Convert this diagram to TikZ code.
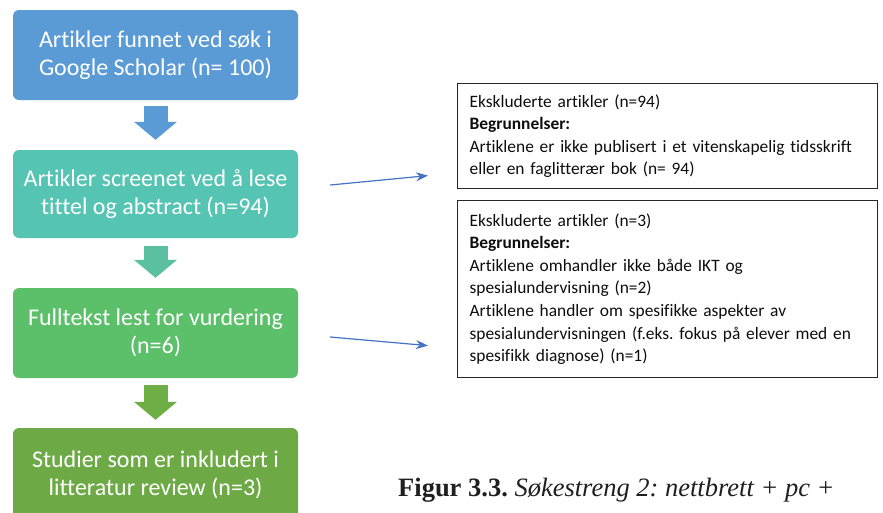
\documentclass[tikz,border=0pt]{standalone}
\usepackage{fontspec}
\setmainfont{Carlito}[Ligatures=NoCommon]
\newfontfamily\capfont{Liberation Serif}
\usetikzlibrary{arrows.meta,calc}
\definecolor{cblue}{HTML}{5B9BD5}
\definecolor{cteal}{HTML}{55C4B3}
\definecolor{cgreenA}{HTML}{5BC0A0}
\definecolor{cgreen}{HTML}{5CBF6A}
\definecolor{cgreenB}{HTML}{6DAE45}
\definecolor{cdark}{HTML}{6DAA45}
\definecolor{linkblue}{HTML}{4472C4}
\frenchspacing
\tikzset{
  flowbox/.style={rectangle, rounded corners=6pt, minimum width=285pt, minimum height=90pt,
    text=white, align=center, inner sep=0pt, font=\fontsize{24}{27.5}\selectfont},
  blockarrow/.style={line width=24pt, -{Triangle[width=42pt,length=18pt]}},
  exbox/.style={draw=black!85, line width=1.2pt, rectangle, text width=396pt, align=left,
    inner xsep=12pt, inner ysep=6pt, font=\frenchspacing\fontsize{17.4}{22.6}\selectfont, text=black!95},
  thinlink/.style={draw=linkblue, line width=1.2pt, -{Stealth[length=12pt,width=9pt]}}
}
\begin{document}
\begin{tikzpicture}[x=1pt,y=-1pt]
\useasboundingbox (0,0) rectangle (883,512);
\clip (0,0) rectangle (883,512);
\node[flowbox, fill=cblue] (b1) at (155.5,55) {Artikler funnet ved søk i\\Google Scholar (n= 100)};
\node[flowbox, fill=cteal, minimum height=88pt] (b2) at (155.5,194) {Artikler screenet ved å lese\\tittel og abstract (n=94)};
\node[flowbox, fill=cgreen] (b3) at (155.5,333) {Fulltekst lest for vurdering\\(n=6)};
\node[flowbox, fill=cdark, minimum height=94pt] (b4) at (155.5,475) {Studier som er inkludert i\\litteratur review (n=3)};
\draw[blockarrow, draw=cblue, fill=cblue, shorten <=6pt, shorten >=10pt] (b1.south) -- (b2.north);
\draw[blockarrow, draw=cgreenA, fill=cgreenA, shorten <=8pt, shorten >=10pt] (b2.south) -- (b3.north);
\draw[blockarrow, draw=cgreenB, fill=cgreenB, shorten <=7pt, shorten >=8pt] (b3.south) -- (b4.north);
\node[exbox, minimum height=105pt, anchor=north west] (exA) at (457,83)
  {Ekskluderte artikler (n=94)\\\textbf{Begrunnelser:}\\Artiklene er ikke publisert i et vitenskapelig tidsskrift\\eller en faglitterær bok (n= 94)};
\node[exbox, minimum height=177pt, anchor=north west] (exB) at (457,200)
  {Ekskluderte artikler (n=3)\\\textbf{Begrunnelser:}\\Artiklene omhandler ikke både IKT og\\spesialundervisning (n=2)\\Artiklene handler om spesifikke aspekter av\\spesialundervisningen (f.eks. fokus på elever med en\\spesifikk diagnose) (n=1)};
\coordinate (a1s) at ($(b2.east)+(32,-9)$);
\coordinate (a1e) at ($(exA.west)+(-29,39.5)$);
\coordinate (a2s) at ($(b3.east)+(32,4)$);
\coordinate (a2e) at ($(exB.west)+(-29,56.5)$);
\draw[thinlink] (a1s) -- (a1e);
\draw[thinlink] (a2s) -- (a2e);
\node[anchor=base west, inner sep=0pt, font=\frenchspacing\capfont\fontsize{26.5}{30}\selectfont, text=black!88] (cap) at (398,496)
  {\textbf{Figur 3.3.} \textit{Søkestreng 2: nettbrett + pc +}};
\end{tikzpicture}
\end{document}
